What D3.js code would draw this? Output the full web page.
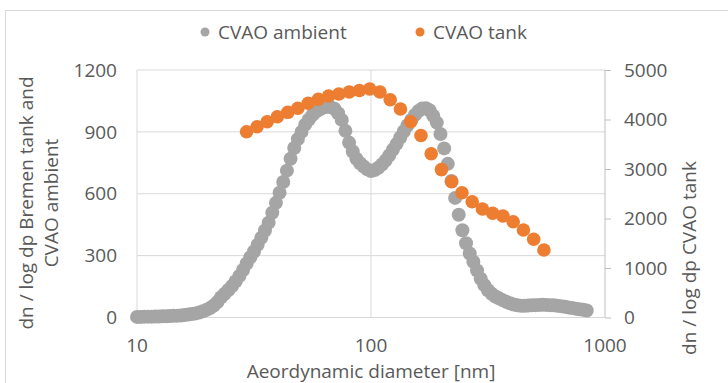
<!DOCTYPE html>
<html>
<head>
<meta charset="utf-8">
<script src="https://cdn.jsdelivr.net/npm/d3@7"></script>
<style>
  body { margin: 0; background: #fff; }
  text { font-family: "Open Sans", sans-serif; fill: #595959; }
</style>
</head>
<body>
<script>
// CVAO ambient (left axis), diameter in nm
const ambientDiameter = [
  10.00, 10.37, 10.75, 11.14, 11.55, 11.97, 12.41, 12.87, 13.34, 13.83,
  14.33, 14.86, 15.40, 15.97, 16.55, 17.16, 17.78, 18.44, 19.11, 19.81,
  20.54, 21.29, 22.07, 22.88, 23.71, 24.58, 25.48, 26.42, 27.38, 28.39,
  29.43, 30.50, 31.62, 32.78, 33.98, 35.22, 36.52, 37.85, 39.24, 40.68,
  42.17, 43.71, 45.32, 46.98, 48.70, 50.48, 52.33, 54.25, 56.23, 58.29,
  60.43, 62.64, 64.94, 67.32, 69.78, 72.34, 74.99, 77.74, 80.59, 83.54,
  86.60, 89.77, 93.06, 96.47, 100.0, 103.7, 107.5, 111.4, 115.5, 119.7,
  124.1, 128.7, 133.4, 138.3, 143.3, 148.6, 154.0, 159.7, 165.5, 171.6,
  177.8, 184.4, 191.1, 198.1, 205.4, 212.9, 220.7, 228.8, 237.1, 245.8,
  254.8, 264.2, 273.8, 283.9, 294.3, 305.0, 316.2, 327.8, 339.8, 352.2,
  365.2, 378.5, 392.4, 406.8, 421.7, 437.1, 453.2, 469.8, 487.0, 504.8,
  523.3, 542.5, 562.3, 582.9, 604.3, 626.4, 649.4, 673.2, 697.8, 723.4,
  749.9, 777.4, 805.9, 835.4
];
const ambientValue = [
  3, 3, 4, 4, 4, 5, 5, 6, 6, 7,
  8, 9, 10, 12, 14, 17, 20, 24, 30, 37,
  46, 58, 75, 98, 115, 133, 153, 176, 201, 230,
  262, 292, 320, 353, 387, 422, 460, 508, 556, 605,
  657, 712, 770, 822, 865, 900, 935, 960, 982, 998,
  1010, 1018, 1022, 1020, 1012, 990, 958, 905, 848, 805,
  770, 748, 732, 718, 710, 715, 726, 742, 762, 786,
  814, 842, 873, 903, 932, 958, 982, 1001, 1013, 1015,
  1005, 978, 945, 890, 820, 745, 662, 580, 498, 423,
  360, 310, 270, 228, 188, 157, 132, 115, 102, 93,
  84, 76, 69, 63, 59, 57, 57, 58, 59, 60,
  61, 62, 61, 60, 59, 57, 55, 52, 49, 46,
  43, 40, 37, 34
];

// CVAO tank (right axis)
const tankDiameter = [
  29.4, 32.6, 36.0, 39.8, 44.1, 48.7, 53.9, 59.6, 65.9, 72.9,
  80.7, 89.2, 98.7, 109.2, 120.8, 133.6, 147.8, 163.5, 180.8, 200.0,
  221.2, 244.7, 270.6, 299.4, 331.1, 366.3, 405.1, 448.1, 495.7, 548.3
];
const tankValue = [
  3753, 3854, 3955, 4056, 4145, 4226, 4327, 4408, 4474, 4515,
  4556, 4586, 4616, 4555, 4400, 4212, 3955, 3676, 3307, 2988,
  2743, 2521, 2339, 2192, 2105, 2050, 1935, 1768, 1580, 1364
];

const xTicks = [10, 100, 1000];
const leftTicks = [0, 300, 600, 900, 1200];
const rightTicks = [0, 1000, 2000, 3000, 4000, 5000];

let width = 728;
let height = 383;
let plot = { left: 137, right: 605, top: 70, bottom: 317.5 };

let svg = d3.select('body').append('svg')
  .attr('width', width)
  .attr('height', height);

// chart border
svg.append('rect')
  .attr('x', 5.5).attr('y', 10.5)
  .attr('width', 760).attr('height', 420)
  .attr('fill', '#fff')
  .attr('stroke', '#d9d9d9');

let x = d3.scaleLog().domain([10, 1000]).range([plot.left, plot.right]);
let yL = d3.scaleLinear().domain([0, 1200]).range([plot.bottom, plot.top]);
let yR = d3.scaleLinear().domain([0, 5000]).range([plot.bottom, plot.top]);

// gridlines
svg.append('g')
  .selectAll('line')
  .data(leftTicks.slice(1))
  .enter().append('line')
  .attr('x1', plot.left).attr('x2', plot.right)
  .attr('y1', d => yL(d)).attr('y2', d => yL(d))
  .style('stroke', '#d9d9d9');

svg.append('g')
  .selectAll('line')
  .data(xTicks)
  .enter().append('line')
  .attr('x1', d => x(d)).attr('x2', d => x(d))
  .attr('y1', plot.top).attr('y2', plot.bottom)
  .style('stroke', d => d == 1000 ? '#bfbfbf' : '#d9d9d9');

svg.append('line')
  .attr('x1', plot.left).attr('x2', plot.right)
  .attr('y1', plot.bottom).attr('y2', plot.bottom)
  .style('stroke', '#d9d9d9');

// right axis with outward ticks
let rightAxis = d3.axisRight(yR)
  .tickValues(rightTicks)
  .tickFormat(d3.format('d'))
  .tickSize(6)
  .tickPadding(13);
let gr = svg.append('g')
  .attr('transform', 'translate(' + plot.right + ',0)')
  .call(rightAxis);
gr.select('.domain').remove();
gr.selectAll('line').style('stroke', '#bfbfbf');
gr.selectAll('text').style('font-size', '19px').attr('fill', '#595959').attr('font-family', null);

// left labels
svg.append('g')
  .selectAll('text')
  .data(leftTicks)
  .enter().append('text')
  .attr('x', 117)
  .attr('y', d => yL(d))
  .attr('dy', '0.35em')
  .attr('text-anchor', 'end')
  .style('font-size', '19px')
  .text(d => d);

// bottom labels
svg.append('g')
  .selectAll('text')
  .data(xTicks)
  .enter().append('text')
  .attr('x', d => x(d))
  .attr('y', 352)
  .attr('text-anchor', 'middle')
  .style('font-size', '19px')
  .text(d => d);

// series
svg.append('g')
  .selectAll('circle')
  .data(ambientDiameter)
  .enter().append('circle')
  .attr('cx', d => x(d))
  .attr('cy', (d, i) => yL(ambientValue[i]))
  .attr('r', 7)
  .attr('fill', '#a5a5a5');

svg.append('g')
  .selectAll('circle')
  .data(tankDiameter)
  .enter().append('circle')
  .attr('cx', d => x(d))
  .attr('cy', (d, i) => yR(tankValue[i]))
  .attr('r', 6.8)
  .attr('fill', '#ed7d31');

// axis titles
svg.append('text')
  .attr('x', (plot.left + plot.right) / 2)
  .attr('y', 378)
  .attr('text-anchor', 'middle')
  .style('font-size', '19px')
  .text('Aeordynamic diameter [nm]');

let lt = svg.append('text')
  .attr('transform', 'translate(0,203) rotate(-90)')
  .attr('text-anchor', 'middle')
  .style('font-size', '19px');
lt.append('tspan').attr('x', 0).attr('y', 33).text('dn / log dp Bremen tank and');
lt.append('tspan').attr('x', 0).attr('y', 58).text('CVAO ambient');

svg.append('text')
  .attr('transform', 'translate(0,258) rotate(-90)')
  .attr('x', 0).attr('y', 696)
  .attr('text-anchor', 'middle')
  .style('font-size', '19px')
  .text('dn / log dp CVAO tank');

// legend
let legend = [
  { name: 'CVAO ambient', color: '#a5a5a5', cx: 205 },
  { name: 'CVAO tank', color: '#ed7d31', cx: 420 }
];
let lg = svg.append('g').selectAll('g').data(legend).enter().append('g');
lg.append('circle')
  .attr('cx', d => d.cx).attr('cy', 32).attr('r', 4.5)
  .attr('fill', d => d.color);
lg.append('text')
  .attr('x', d => d.cx + 13).attr('y', 32).attr('dy', '0.35em')
  .style('font-size', '19px')
  .text(d => d.name);
</script>
</body>
</html>
